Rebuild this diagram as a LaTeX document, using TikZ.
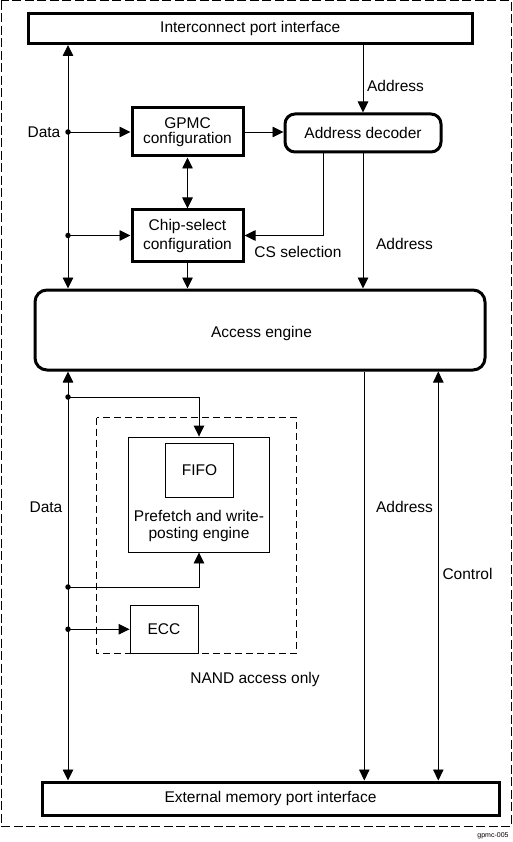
\documentclass[tikz,border=0pt]{standalone}
\usepackage{fontspec}
\setmainfont{Liberation Sans}
\usetikzlibrary{arrows.meta}
\begin{document}
\begin{tikzpicture}[x=1pt,y=-1pt,
  font=\fontsize{15.5}{17}\selectfont,
  thickbox/.style={draw,line width=3pt,inner sep=0pt,align=center},
  roundbox/.style={thickbox,rounded corners=10pt},
  thinbox/.style={draw,line width=0.9pt,inner sep=0pt,align=center},
  conn/.style={line width=0.9pt,-{Triangle[length=11pt,width=10.5pt]}},
  biconn/.style={line width=0.9pt,{Triangle[length=11pt,width=10.5pt]}-{Triangle[length=11pt,width=10.5pt]}},
  dot/.style={fill,circle,inner sep=0pt,minimum size=5.5pt},
  lbl/.style={anchor=base,inner sep=0pt},
  outerdash/.style={draw,line width=1pt,dash pattern=on 9pt off 3.5pt},
  innerdash/.style={draw,line width=0.9pt,dash pattern=on 7pt off 4pt}
]
\useasboundingbox (0,0) rectangle (512,842);
% outer dashed frame
\draw[outerdash] (1,1) rectangle (511,826);
% NAND dashed region
\draw[innerdash] (96.5,417.5) rectangle (296.5,653);

% boxes
\node[thickbox,minimum width=443.5pt,minimum height=29.5pt] (ipi) at (250.25,28.75) {Interconnect port interface};
\node[thickbox,minimum width=111pt,minimum height=48pt,font=\fontsize{15.5}{14.5}\selectfont] (gpmc) at (187.5,132) {GPMC\\configuration};
\node[roundbox,minimum width=156pt,minimum height=38pt] (ad) at (363,133) {Address decoder};
\node[thickbox,minimum width=111pt,minimum height=51pt,font=\fontsize{15.5}{19}\selectfont] (csc) at (187.5,235.5) {Chip-select\\configuration};
\node[roundbox,rounded corners=12pt,minimum width=450pt,minimum height=80pt] (ae) at (260,330) {};
\node[lbl] (aetxt) at (261.5,337) {Access engine};
\node[thinbox,minimum width=141pt,minimum height=115pt] (pf) at (199,494.5) {};
\node[thinbox,minimum width=68pt,minimum height=53.5pt] (fifo) at (199.5,470.25) {FIFO};
\node[lbl,align=center,font=\fontsize{15.5}{16.5}\selectfont,anchor=north] (pftxt) at (199,510.5) {Prefetch and write-\\posting engine};
\node[thinbox,minimum width=68pt,minimum height=47.5pt] (ecc) at (164,629.25) {ECC};
\node[thickbox,minimum width=457pt,minimum height=33pt] (emi) at (270.5,798.5) {External memory port interface};

% helper coordinates
\coordinate (dx) at (68,0);
\coordinate (csx) at (323.3,0);
\coordinate (ax) at (364.3,0);
\coordinate (cx) at (438.3,0);

% data bus (upper)
\draw[biconn] (ipi.south -| dx) -- (ae.north -| dx);
\coordinate (d1) at (dx |- gpmc.west);
\coordinate (d2) at (dx |- csc.west);
\node[dot] (n1) at (d1) {};
\node[dot] (n2) at (d2) {};
\draw[conn] (d1) -- (gpmc.west);
\draw[conn] (d2) -- (csc.west);

% top connections
\draw[conn] (ipi.south -| ad.north) -- (ad.north);
\draw[conn] (gpmc.east) -- (gpmc.east -| ad.west);
\draw[biconn] (gpmc.south) -- (csc.north);
\draw[conn] (ad.south -| csx) -- (csx |- csc.east) -- (csc.east);
\draw[conn] (ad.south) -- (ae.north -| ad.south);
\draw[conn] (csc.south) -- (csc.south |- ae.north);

% data bus (lower)
\draw[biconn] (ae.south -| dx) -- (emi.north -| dx);
\coordinate (d3) at (68,397);
\coordinate (d4) at (68,587);
\coordinate (d5) at (dx |- ecc.west);
\node[dot] (n3) at (d3) {};
\node[dot] (n4) at (d4) {};
\node[dot] (n5) at (d5) {};
\draw[conn] (d3) -| (pf.north);
\draw[conn] (d4) -| (pf.south);
\draw[conn] (d5) -- (ecc.west);

% address and control to external
\draw[conn] (ae.south -| ax) -- (emi.north -| ax);
\draw[biconn] (emi.north -| cx) -- (ae.south -| cx);

% labels
\node[lbl] (l1) at (44,138) {Data};
\node[lbl] (l2) at (395.5,92) {Address};
\node[lbl] (l3) at (298,257) {CS selection};
\node[lbl] (l4) at (404.5,249) {Address};
\node[lbl] (l5) at (46,512) {Data};
\node[lbl] (l6) at (404.5,512) {Address};
\node[lbl] (l7) at (467.5,579) {Control};
\node[lbl] (l8) at (255,683) {NAND access only};
\node[lbl,font=\fontsize{7}{8}\selectfont] (l9) at (493,837.5) {gpmc-005};
\end{tikzpicture}
\end{document}
